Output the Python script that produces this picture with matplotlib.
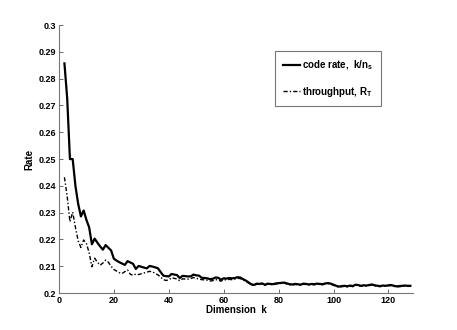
import matplotlib
matplotlib.use("Agg")
import matplotlib.pyplot as plt
import numpy as np

plt.rcParams['font.family'] = ['Liberation Sans', 'DejaVu Sans']
plt.rcParams['font.weight'] = 'bold'
plt.rcParams['mathtext.fontset'] = 'custom'
plt.rcParams['mathtext.bf'] = 'Liberation Sans:bold'
plt.rcParams['mathtext.rm'] = 'Liberation Sans:bold'

# dimension k = 2 .. 128
k = list(range(2, 129))

code_rate = [
    .2857, .2727, .2500, .2500, .2400, .2333, .2286, .2308, .2273, .2245,
    .2182, .2203, .2188, .2174, .2162, .2179, .2169, .2159, .2128, .2121,
    .2115, .2110, .2105, .2119, .2114, .2109, .2090, .2101, .2098, .2095,
    .2092, .2101, .2099, .2096, .2093, .2079, .2065, .2063, .2062, .2071,
    .2069, .2067, .2056, .2064, .2063, .2062, .2062, .2069, .2066, .2065,
    .2057, .2056, .2055, .2052, .2053, .2058, .2057, .2050, .2055, .2054,
    .2056, .2055, .2056, .2059, .2058, .2052, .2047, .2040, .2033, .2030,
    .2035, .2034, .2036, .2031, .2035, .2034, .2033, .2036, .2037, .2038,
    .2039, .2036, .2033, .2032, .2034, .2033, .2031, .2035, .2034, .2032,
    .2034, .2033, .2035, .2034, .2033, .2036, .2037, .2035, .2031, .2027,
    .2024, .2026, .2027, .2025, .2028, .2026, .2031, .2030, .2027, .2029,
    .2028, .2030, .2032, .2029, .2027, .2026, .2028, .2027, .2029, .2030,
    .2027, .2025, .2026, .2027, .2028, .2027, .2027,
]

throughput = [
    .2432, .2360, .2266, .2302, .2245, .2195, .2170, .2198, .2185, .2150,
    .2098, .2130, .2115, .2104, .2112, .2123, .2115, .2100, .2088, .2082,
    .2076, .2073, .2080, .2086, .2070, .2066, .2071, .2069, .2072, .2075,
    .2078, .2081, .2079, .2074, .2068, .2060, .2050, .2047, .2049, .2057,
    .2055, .2052, .2046, .2053, .2052, .2052, .2054, .2058, .2055, .2052,
    .2050, .2049, .2048, .2045, .2046, .2050, .2049, .2044, .2050, .2049,
    .2051, .2050, .2052, .2055, .2054, .2049, .2044, .2038, .2031, .2028,
    .2033, .2032, .2034, .2029, .2033, .2032, .2031, .2034, .2035, .2036,
    .2037, .2034, .2031, .2030, .2032, .2031, .2029, .2033, .2032, .2030,
    .2032, .2031, .2033, .2032, .2031, .2034, .2035, .2033, .2029, .2025,
    .2022, .2024, .2025, .2023, .2026, .2024, .2029, .2028, .2025, .2027,
    .2026, .2028, .2030, .2027, .2025, .2024, .2026, .2025, .2027, .2028,
    .2025, .2023, .2024, .2025, .2026, .2025, .2025,
]

x_ticks = [0, 20, 40, 60, 80, 100, 120]
y_ticks = [0.2, 0.21, 0.22, 0.23, 0.24, 0.25, 0.26, 0.27, 0.28, 0.29, 0.3]
y_labels = ['0.2', '0.21', '0.22', '0.23', '0.24', '0.25',
            '0.26', '0.27', '0.28', '0.29', '0.3']


def main():
    fig = plt.figure(figsize=(4.57, 3.30), dpi=100)
    ax = fig.add_axes([0.129, 0.112, 0.775, 0.812])

    ax.plot(k, code_rate, color='black', lw=1.6,
            label=r'code rate,  k/n$_{\mathbf{s}}$')
    ax.plot(k, throughput, color='black', lw=1.0,
            linestyle=(0, (3, 1.5, 1, 1.5)),
            label=r'throughput, R$_{\mathbf{T}}$')

    ax.set_xlim(0, 129)
    ax.set_ylim(0.2, 0.3)
    ax.set_xticks(x_ticks)
    ax.set_yticks(y_ticks)
    ax.set_yticklabels(y_labels)
    ax.tick_params(direction='in', length=3, width=0.6, labelsize=6.5,
                   colors='#555555', labelcolor='black', pad=2)

    for s in ['top', 'right']:
        ax.spines[s].set_visible(False)
    for s in ['left', 'bottom']:
        ax.spines[s].set_color('#777777')
        ax.spines[s].set_linewidth(0.8)

    ax.set_xlabel('Dimension  k', fontsize=7, fontweight='bold', labelpad=0)
    ax.set_ylabel('Rate', fontsize=7, fontweight='bold', labelpad=3)

    leg = ax.legend(loc='upper left', bbox_to_anchor=(0.61, 0.905), fontsize=7,
                    frameon=True, fancybox=False, handlelength=1.8,
                    handletextpad=0.2, labelspacing=1.3, borderpad=0.8,
                    borderaxespad=0)
    leg.get_frame().set_edgecolor('#555555')
    leg.get_frame().set_linewidth(0.8)

    fig.savefig('out.png', dpi=100)


if __name__ == "__main__":
    main()
